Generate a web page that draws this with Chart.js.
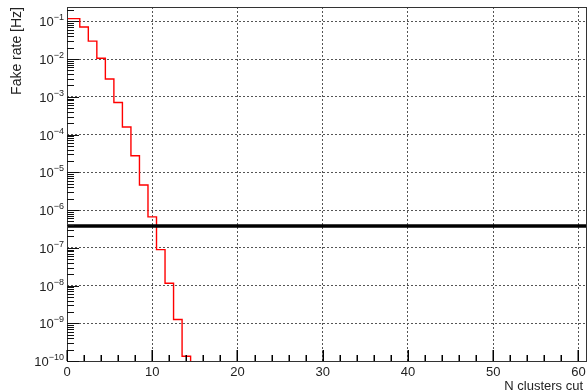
<!DOCTYPE html>
<html>
<head>
<meta charset="utf-8">
<script src="https://cdn.jsdelivr.net/npm/chart.js@4"></script>
<style>
html,body{margin:0;padding:0;background:#fff;}
#c{display:block;}
</style>
</head>
<body>
<canvas id="c" width="588" height="392"></canvas>
<script>
// ---- data ----
const nCut = [0,1,2,3,4,5,6,7,8,9,10,11,12,13,14];
const fakeRate = [0.118,0.118,0.071,0.030,0.0105,0.00296,7.1e-4,1.58e-4,2.74e-5,4.6e-6,6.6e-7,8.95e-8,1.15e-8,1.26e-9,1.34e-10];
const threshold = 3.8e-7;
const xTicks = [0,10,20,30,40,50,60];
const yExponents = [-10,-9,-8,-7,-6,-5,-4,-3,-2,-1];
const xMin = 0, xMax = 61, yMin = 1e-10, yMax = 0.24;
const xTitle = "N clusters cut";
const yTitle = "Fake rate [Hz]";

// histogram step points (left bin edges), closed at the last right edge
const histPts = nCut.map((n,i)=>({x:n-0.5, y:fakeRate[i]}));
histPts.push({x:nCut[nCut.length-1]+0.5, y:1e-13});
const thrPts = [{x:xMin,y:threshold},{x:xMax,y:threshold}];

const FONT = '"Liberation Sans", Arial, Helvetica, sans-serif';

const decorPlugin = {
  id:'decor',
  afterDraw(chart){
    const ctx = chart.ctx, a = chart.chartArea;
    const xs = chart.scales.x, ys = chart.scales.y;
    ctx.save();
    ctx.setLineDash([]);
    const L = Math.round(a.left), R = Math.round(a.right), T = Math.round(a.top), B = Math.round(a.bottom);
    // frame
    ctx.fillStyle = '#333';
    ctx.fillRect(L, T, R-L, 1);
    ctx.fillRect(L, B, R-L, 1);
    ctx.fillRect(L, T, 1, B-T+1);
    ctx.fillRect(R-1, T, 1, B-T+1);
    // y ticks (major + minor)
    ctx.fillStyle = '#111';
    for (let e=-10; e<0; e++){
      for (let m=1; m<10; m++){
        const v = m*Math.pow(10,e);
        if (v<yMin*0.999 || v>yMax) continue;
        const py = Math.round(ys.getPixelForValue(v));
        const len = (m===1)?12:7;
        ctx.fillRect(L, py, len, 1);
      }
    }
    // x ticks
    ctx.fillStyle = '#000';
    for (let k=0; k<=30; k++){
      const v = 2*k;
      const px = Math.round(xs.getPixelForValue(v));
      const len = (k%5===0)?11:6;
      ctx.fillRect(px-0.5, B-len, 1.5, len);
    }
    // x tick labels
    ctx.fillStyle = '#222';
    ctx.font = '13px '+FONT;
    ctx.textAlign = 'center';
    ctx.textBaseline = 'alphabetic';
    xTicks.forEach(v=>{
      ctx.fillText(String(v), xs.getPixelForValue(v), a.bottom+15);
    });
    // y tick labels 10^e
    yExponents.forEach(e=>{
      const py = ys.getPixelForValue(Math.pow(10,e));
      const sup = '\u2212'+Math.abs(e);
      ctx.font = '9px '+FONT;
      const ws = ctx.measureText(sup).width;
      ctx.textAlign = 'left';
      const right = a.left-3;
      ctx.fillText(sup, right-ws, py-1);
      ctx.font = '13px '+FONT;
      const wb = ctx.measureText('10').width;
      ctx.fillText('10', right-ws-wb, py+5);
    });
    // axis titles
    ctx.font = '13px '+FONT;
    ctx.textAlign = 'right';
    ctx.fillText(xTitle, 583, 390);
    ctx.save();
    ctx.translate(21, a.top);
    ctx.rotate(-Math.PI/2);
    ctx.font = '14px '+FONT;
    ctx.textAlign = 'right';
    ctx.fillText(yTitle, 0, 0);
    ctx.restore();
    ctx.restore();
  }
};

new Chart(document.getElementById('c'), {
  type:'scatter',
  data:{
    datasets:[
      {data:histPts, showLine:true, stepped:'before', borderColor:'#ff0000', borderWidth:1.4, pointRadius:0, fill:false, order:2},
      {data:thrPts, showLine:true, borderColor:'#000', borderWidth:3.5, pointRadius:0, fill:false, order:1}
    ]
  },
  options:{
    responsive:false,
    animation:false,
    events:[],
    layout:{padding:{left:0,top:7,right:1,bottom:0}},
    plugins:{legend:{display:false},tooltip:{enabled:false}},
    scales:{
      x:{
        type:'linear', min:xMin, max:xMax,
        afterBuildTicks(s){ s.ticks = xTicks.map(v=>({value:v})); },
        afterFit(s){ s.height = 31; },
        ticks:{display:false},
        border:{display:false, dash:[2,2]},
        grid:{color:'#555', lineWidth:1, drawTicks:false, tickLength:0}
      },
      y:{
        type:'logarithmic', min:yMin, max:yMax,
        afterBuildTicks(s){ s.ticks = yExponents.map(e=>({value:Math.pow(10,e)})); },
        afterFit(s){ s.width = 67; },
        ticks:{display:false},
        border:{display:false, dash:[2,2]},
        grid:{color:'#555', lineWidth:1, drawTicks:false, tickLength:0}
      }
    }
  },
  plugins:[decorPlugin]
});
</script>
</body>
</html>
